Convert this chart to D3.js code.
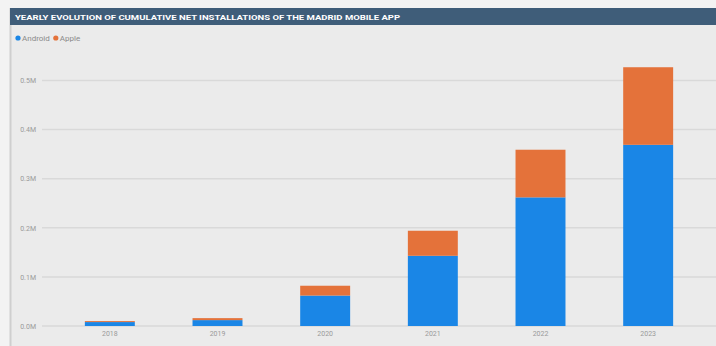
<!DOCTYPE html>
<html>
<head>
<meta charset="utf-8">
<script src="https://cdn.jsdelivr.net/npm/d3@7"></script>
<style>
  body { margin: 0; background: #f3f3f3; }
  svg { display: block; font-family: "Roboto", "Liberation Sans", sans-serif; }
</style>
</head>
<body>
<div id="chart"></div>
<script>
// chart data
var years = ["2018", "2019", "2020", "2021", "2022", "2023"];
var android = [0.008, 0.012, 0.062, 0.143, 0.262, 0.369];
var apple = [0.002, 0.004, 0.020, 0.051, 0.097, 0.158];
var seriesNames = ["Android", "Apple"];
var yTicks = [0, 0.1, 0.2, 0.3, 0.4, 0.5];
var title = "YEARLY EVOLUTION OF CUMULATIVE NET INSTALLATIONS OF THE MADRID MOBILE APP";

var W = 716, H = 346;
var colors = {Android: "#1a86e6", Apple: "#e4723a"};

var svg = d3.select("#chart").append("svg")
    .attr("width", W)
    .attr("height", H);

// panel background
svg.append("rect")
    .attr("x", 10).attr("y", 8)
    .attr("width", W - 10).attr("height", H - 8)
    .attr("fill", "#ebebeb");
// left border line
svg.append("line")
    .attr("x1", 10.5).attr("x2", 10.5)
    .attr("y1", 8).attr("y2", H)
    .attr("stroke", "#cfcfcf").attr("stroke-width", 2);

// title bar
svg.append("rect")
    .attr("x", 10).attr("y", 8)
    .attr("width", W - 10).attr("height", 17)
    .attr("fill", "#3f5d79");
svg.append("text")
    .attr("x", 15).attr("y", 19.5)
    .attr("fill", "#ffffff")
    .attr("font-size", 7.2)
    .attr("font-weight", "bold")
    .attr("textLength", 385)
    .attr("lengthAdjust", "spacingAndGlyphs")
    .text(title);

// legend
var legend = svg.append("g").attr("transform", "translate(16,38)");
var lx = 0;
seriesNames.forEach(function (name) {
  legend.append("circle")
      .attr("cx", lx + 2).attr("cy", 0).attr("r", 2.6)
      .attr("fill", colors[name]);
  var t = legend.append("text")
      .attr("x", lx + 6).attr("y", 2.8)
      .attr("font-size", 8)
      .attr("fill", "#8a8a8a")
      .text(name);
  lx += 6 + t.node().getComputedTextLength() + 4;
});

// scales
var x = d3.scaleBand()
    .domain(years)
    .range([56, 702])
    .paddingInner(0.536)
    .paddingOuter(0.268);

var y = d3.scaleLinear()
    .domain([0, 0.5])
    .range([326, 80.5]);

// gridlines
svg.append("g")
    .selectAll("line")
    .data(yTicks)
    .enter().append("line")
      .attr("x1", 42).attr("x2", W)
      .attr("y1", function (d) { return y(d); })
      .attr("y2", function (d) { return y(d); })
      .attr("stroke", "#d9d9d9")
      .attr("stroke-width", 1.5);

// y axis labels
var yAxis = svg.append("g")
    .attr("transform", "translate(36,0)")
    .call(d3.axisLeft(y).tickValues(yTicks).tickSize(0).tickPadding(0)
      .tickFormat(function (d) { return d.toFixed(1) + "M"; }));
yAxis.select(".domain").remove();
yAxis.selectAll("text")
    .attr("font-size", 7)
    .attr("fill", "#9a9a9a")
    .attr("font-family", "Roboto, sans-serif");

// stacked bars
var table = years.map(function (yr, i) {
  return {year: yr, Android: android[i], Apple: apple[i]};
});
var stack = d3.stack().keys(seriesNames)(table);

svg.append("g")
  .selectAll("g")
  .data(stack)
  .enter().append("g")
    .attr("fill", function (d) { return colors[d.key]; })
  .selectAll("rect")
  .data(function (d) { return d; })
  .enter().append("rect")
    .attr("x", function (d) { return x(d.data.year); })
    .attr("y", function (d) { return y(d[1]); })
    .attr("width", x.bandwidth())
    .attr("height", function (d) { return y(d[0]) - y(d[1]); });

// x axis labels
var xAxis = svg.append("g")
    .attr("transform", "translate(0,331)")
    .call(d3.axisBottom(x).tickSize(0).tickPadding(0));
xAxis.select(".domain").remove();
xAxis.selectAll("text")
    .attr("font-size", 7)
    .attr("fill", "#9a9a9a")
    .attr("font-family", "Roboto, sans-serif");
</script>
</body>
</html>
